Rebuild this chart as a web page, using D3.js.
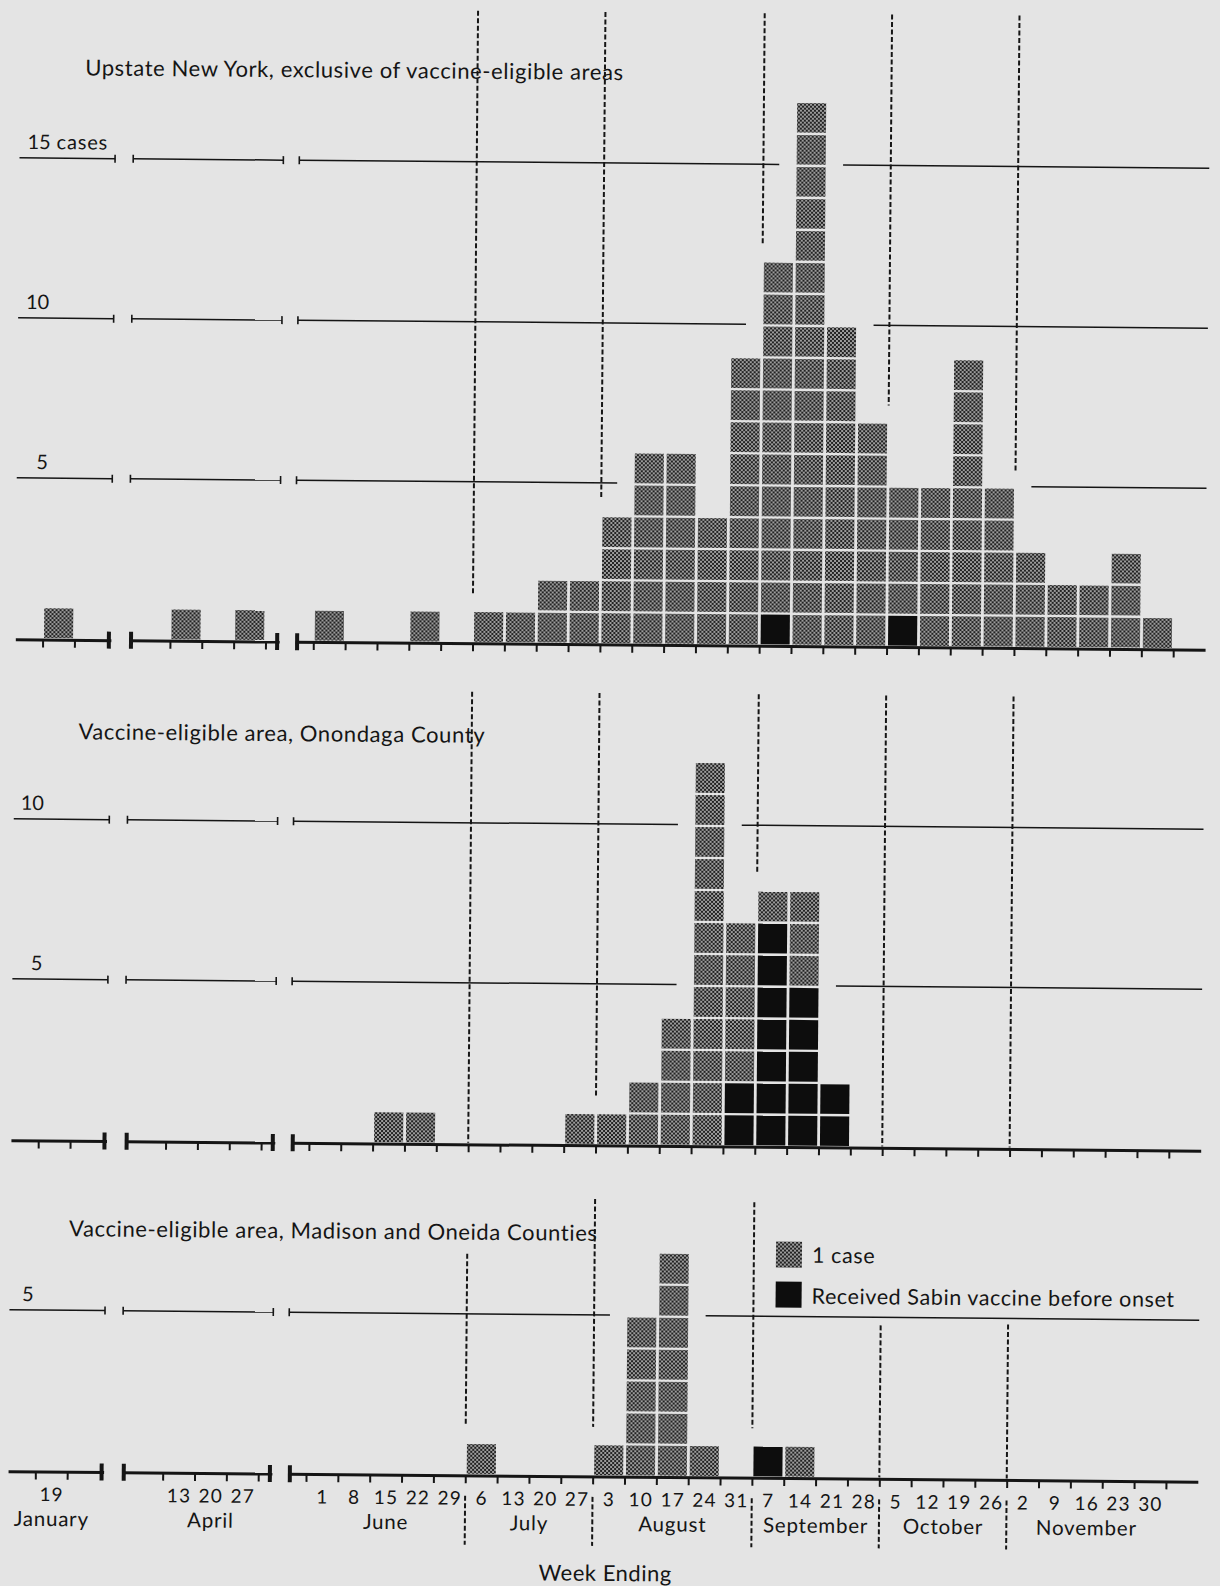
<!DOCTYPE html>
<html>
<head>
<meta charset="utf-8">
<script src="https://cdn.jsdelivr.net/npm/d3@7"></script>
<style>
  body { margin: 0; background: #e4e4e4; }
  svg { display: block; font-family: Lato, "DejaVu Sans", sans-serif; }
</style>
</head>
<body>
<div id="chart"></div>
<script>
// Week-ending dates (1963) with their tick labels and months
const weekEnding = [
  "1963-01-19",
  "1963-04-13", "1963-04-20", "1963-04-27",
  "1963-06-01", "1963-06-08", "1963-06-15", "1963-06-22", "1963-06-29",
  "1963-07-06", "1963-07-13", "1963-07-20", "1963-07-27",
  "1963-08-03", "1963-08-10", "1963-08-17", "1963-08-24", "1963-08-31",
  "1963-09-07", "1963-09-14", "1963-09-21", "1963-09-28",
  "1963-10-05", "1963-10-12", "1963-10-19", "1963-10-26",
  "1963-11-02", "1963-11-09", "1963-11-16", "1963-11-23", "1963-11-30"
];
const weekLabels = [
  "19",
  "13", "20", "27",
  "1", "8", "15", "22", "29",
  "6", "13", "20", "27",
  "3", "10", "17", "24", "31",
  "7", "14", "21", "28",
  "5", "12", "19", "26",
  "2", "9", "16", "23", "30"
];
const weekMonths = [
  "January",
  "April", "April", "April",
  "June", "June", "June", "June", "June",
  "July", "July", "July", "July",
  "August", "August", "August", "August", "August",
  "September", "September", "September", "September",
  "October", "October", "October", "October",
  "November", "November", "November", "November", "November"
];

// cases per week (all squares) and those who received Sabin vaccine (black)
const upstateCases  = [1, 1,0,1, 1,0,0,1,0, 1,1,2,2, 4,6,6,4,9, 12,17,10,7, 5,5,9,5, 3,2,2,3,1];
const upstateSabin  = [0, 0,0,0, 0,0,0,0,0, 0,0,0,0, 0,0,0,0,0, 1,0,0,0, 1,0,0,0, 0,0,0,0,0];
const onondagaCases = [0, 0,0,0, 0,0,1,1,0, 0,0,0,1, 1,2,4,12,7, 8,8,2,0, 0,0,0,0, 0,0,0,0,0];
const onondagaSabin = [0, 0,0,0, 0,0,0,0,0, 0,0,0,0, 0,0,0,0,2, 7,5,2,0, 0,0,0,0, 0,0,0,0,0];
const madisonCases  = [0, 0,0,0, 0,0,0,0,0, 1,0,0,0, 1,5,7,1,0, 1,1,0,0, 0,0,0,0, 0,0,0,0,0];
const madisonSabin  = [0, 0,0,0, 0,0,0,0,0, 0,0,0,0, 0,0,0,0,0, 1,0,0,0, 0,0,0,0, 0,0,0,0,0];

// broken time axis: three pieces
const axisPieces = [["1963-01-06", "1963-01-27"], ["1963-03-28", "1963-04-30"], ["1963-05-21", "1963-12-07"]];
const pieceLeft = [14, 127.7, 293.8];

const panels = [
  { title: "Upstate New York, exclusive of vaccine-eligible areas", cases: upstateCases, sabin: upstateSabin,
    levels: [5, 10, 15], base: 643, titleX: 79, titleY: 80, labelRight: 45, dashTop: [12, 12, 12, 12, 12] },
  { title: "Vaccine-eligible area, Onondaga County", cases: onondagaCases, sabin: onondagaSabin,
    levels: [5, 10], base: 1144, titleX: 78, titleY: 744, labelRight: 44, dashTop: [693, 693, 693, 693, 693] },
  { title: "Vaccine-eligible area, Madison and Oneida Counties", cases: madisonCases, sabin: madisonSabin,
    levels: [5], base: 1475, titleX: 73, titleY: 1241, labelRight: 38, dashTop: [1255, 1199, 1201, 1323, 1321] }
];

const W = 1220, H = 1586;
const colW = 31.85, unitH = 32, dayW = colW / 7;
const ink = "#151515";

const parse = d3.utcParse("%Y-%m-%d");
const weeks = weekEnding.map((d, i) => {
  const end = parse(d);
  return { i, end, start: d3.utcDay.offset(end, -7), mid: d3.utcHour.offset(end, -84),
           label: weekLabels[i], month: weekMonths[i] };
});

const pieceScales = axisPieces.map((p, j) => {
  const a = parse(p[0]), b = parse(p[1]);
  const days = (b - a) / 864e5;
  return d3.scaleUtc().domain([a, b]).range([pieceLeft[j], pieceLeft[j] + days * dayW]);
});
const pieceOf = d => pieceScales.find(s => d >= s.domain()[0] && d <= s.domain()[1]);
const x = d => pieceOf(d)(d);

const svg = d3.select("#chart").append("svg")
  .attr("width", W).attr("height", H);

const defs = svg.append("defs");
const pat = defs.append("pattern").attr("id", "halftone")
  .attr("width", 4).attr("height", 4).attr("patternUnits", "userSpaceOnUse");
pat.append("rect").attr("width", 4).attr("height", 4).attr("fill", "#9c9c9c");
pat.append("rect").attr("width", 2).attr("height", 2).attr("fill", "#222");
pat.append("rect").attr("x", 2).attr("y", 2).attr("width", 2).attr("height", 2).attr("fill", "#222");

svg.append("rect").attr("width", W).attr("height", H).attr("fill", "#e4e4e4");

// the scan is slightly tilted
const root = svg.append("g").attr("transform", "rotate(0.5, 610, 793)");

const lastPiece = pieceScales[2];

panels.forEach(p => {
  const g = root.append("g");
  const y = d3.scaleLinear().domain([0, 1]).range([p.base, p.base - unitH]);

  // reference lines at 5, 10, 15 cases
  p.levels.forEach((lv, li) => {
    const yy = y(lv);
    pieceScales.forEach((s, j) => {
      const [x0, x1] = s.range();
      let parts = [[x0, x1]];
      if (j === 2) {
        const tall = weeks.filter(w => p.cases[w.i] >= lv && pieceOf(w.end) === s);
        if (tall.length) {
          const gx0 = x(tall[0].start) - 16, gx1 = x(tall[tall.length - 1].end) + 16;
          parts = [[x0, gx0], [gx1, x1]];
        }
      }
      parts.forEach(pt => g.append("line")
        .attr("x1", pt[0]).attr("x2", pt[1]).attr("y1", yy).attr("y2", yy)
        .attr("stroke", ink).attr("stroke-width", 1.5));
      const caps = j === 0 ? [x1] : j === 1 ? [x0, x1] : [x0];
      caps.forEach(cx => g.append("line")
        .attr("x1", cx).attr("x2", cx).attr("y1", yy - 4).attr("y2", yy + 4)
        .attr("stroke", ink).attr("stroke-width", 1.6));
    });
    g.append("text").attr("x", p.labelRight).attr("y", yy - 9)
      .attr("text-anchor", "end").attr("font-size", 20).attr("fill", ink).text(lv);
    if (li === 2) {
      g.append("text").attr("x", p.labelRight + 6).attr("y", yy - 9)
        .attr("font-size", 20).attr("letter-spacing", 0.8).attr("fill", ink).text("cases");
    }
  });

  // month boundary dashed lines
  let k = 0;
  weeks.forEach((w, i) => {
    const nx = weeks[i + 1];
    if (!nx || w.month === nx.month || pieceOf(w.end) !== lastPiece || pieceOf(nx.end) !== lastPiece) return;
    const bx = x(w.end);
    const m = Math.max(p.cases[i], p.cases[i + 1]);
    const yBottom = m > 0 ? y(m) - 16 : p.base;
    g.append("line").attr("x1", bx).attr("x2", bx)
      .attr("y1", p.dashTop[k]).attr("y2", yBottom)
      .attr("stroke", ink).attr("stroke-width", 2).attr("stroke-dasharray", "5,2.5");
    k++;
  });

  // stacked squares
  weeks.forEach(w => {
    const n = p.cases[w.i];
    for (let c = 0; c < n; c++) {
      g.append("rect")
        .attr("x", x(w.start) + 1.4)
        .attr("width", x(w.end) - x(w.start) - 2.8)
        .attr("y", y(c + 1) + 2.3)
        .attr("height", unitH - 2.3)
        .attr("fill", c < p.sabin[w.i] ? "#0d0d0d" : "url(#halftone)");
    }
  });

  // broken axis with weekly ticks
  pieceScales.forEach((s, j) => {
    const [d0, d1] = s.domain();
    const ticks = Array.from(new Set(weeks.flatMap(w => [w.start, w.end])
      .filter(d => d >= d0 && d <= d1).map(d => +d))).map(d => new Date(d));
    const ax = g.append("g").attr("transform", `translate(0,${p.base + 1.5})`)
      .call(d3.axisBottom(s).tickValues(ticks).tickFormat("").tickSizeInner(8).tickSizeOuter(0));
    ax.select(".domain").attr("stroke", ink).attr("stroke-width", 3);
    ax.selectAll(".tick line").attr("stroke", ink).attr("stroke-width", 2);
    const [x0, x1] = s.range();
    const caps = j === 0 ? [x1 - 2] : j === 1 ? [x0 + 2, x1 - 2] : [x0 + 2];
    caps.forEach(cx => g.append("rect")
      .attr("x", cx - 2).attr("width", 4)
      .attr("y", p.base + 1.5 - 8.5).attr("height", 17).attr("fill", ink));
  });

  g.append("text").attr("x", p.titleX).attr("y", p.titleY)
    .attr("font-size", 22).attr("letter-spacing", 0.6).attr("fill", ink).text(p.title);
});

// tick labels, month labels and dividers under the last panel
const labG = root.append("g").attr("fill", ink);
labG.selectAll("text.wk").data(weeks).join("text").attr("class", "wk")
  .attr("x", w => x(w.mid) + 0.6).attr("y", 1506)
  .attr("text-anchor", "middle").attr("font-size", 19).attr("letter-spacing", 1.2).text(w => w.label);

const months = d3.groups(weeks, w => w.month);
labG.selectAll("text.mo").data(months).join("text").attr("class", "mo")
  .attr("x", m => d3.mean(m[1], w => x(w.mid)) + 0.4).attr("y", 1531)
  .attr("text-anchor", "middle").attr("font-size", 20.5).attr("letter-spacing", 0.8).text(m => m[0]);

weeks.forEach((w, i) => {
  const nx = weeks[i + 1];
  if (!nx || w.month === nx.month || pieceOf(w.end) !== lastPiece || pieceOf(nx.end) !== lastPiece) return;
  root.append("line").attr("x1", x(w.end)).attr("x2", x(w.end))
    .attr("y1", 1497).attr("y2", 1546)
    .attr("stroke", ink).attr("stroke-width", 2).attr("stroke-dasharray", "5,2.5");
});

root.append("text").attr("x", 612).attr("y", 1581).attr("text-anchor", "middle")
  .attr("font-size", 22).attr("letter-spacing", 0.5).attr("fill", ink).text("Week Ending");

// legend
const leg = root.append("g");
leg.append("rect").attr("x", 780).attr("y", 1240).attr("width", 26).attr("height", 26).attr("fill", "url(#halftone)");
leg.append("text").attr("x", 816).attr("y", 1261).attr("font-size", 21.5).attr("letter-spacing", 0.6)
  .attr("fill", ink).text("1 case");
leg.append("rect").attr("x", 780).attr("y", 1280).attr("width", 26).attr("height", 26).attr("fill", "#0d0d0d");
leg.append("text").attr("x", 816).attr("y", 1302).attr("font-size", 21.5).attr("letter-spacing", 0.6)
  .attr("fill", ink).text("Received Sabin vaccine before onset");
</script>
</body>
</html>
